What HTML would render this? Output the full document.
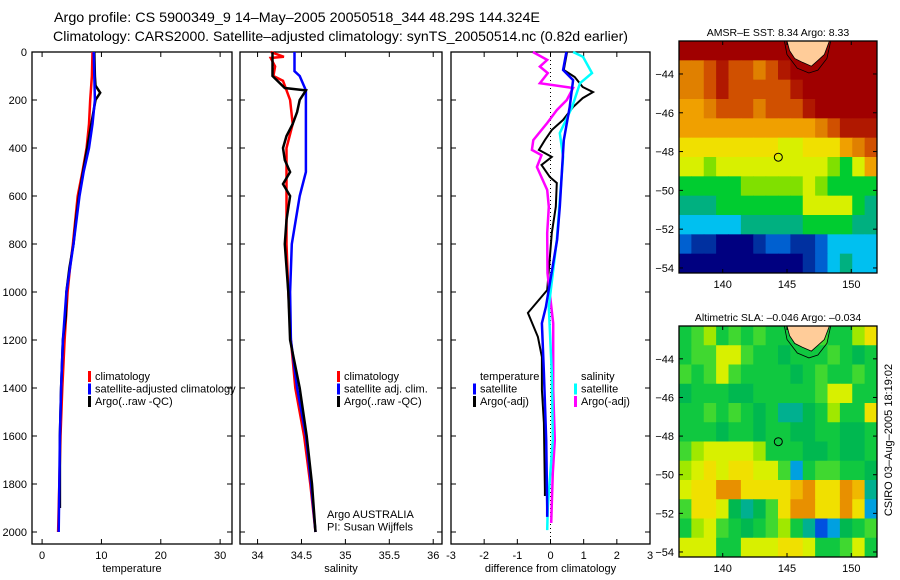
<!DOCTYPE html>
<html><head><meta charset="utf-8"><style>
body{margin:0;background:#fff;}
svg{display:block;font-family:"Liberation Sans",sans-serif;}
text{font-size:11px;fill:#000;}
</style></head><body>
<svg id="fig" width="900" height="580" viewBox="0 0 900 580">
<text x="54" y="22" textLength="486" lengthAdjust="spacingAndGlyphs" style="font-size:14px">Argo profile: CS 5900349_9 14–May–2005 20050518_344 48.29S 144.324E</text>
<text x="53" y="41" textLength="575" lengthAdjust="spacingAndGlyphs" style="font-size:14px">Climatology: CARS2000. Satellite–adjusted climatology: synTS_20050514.nc (0.82d earlier)</text>
<g id="p1"></g>
<g id="p2"></g>
<g id="p3"></g>
<g id="m1"></g>
<g id="m2"></g>
<text transform="translate(892,440) rotate(-90)" text-anchor="middle">CSIRO 03–Aug–2005 18:19:02</text>
</svg>
<script>
// ---------- data ----------
const depthTicks=[0,200,400,600,800,1000,1200,1400,1600,1800,2000];
const tempTicks=[0,10,20,30];
const salTicks=[34,34.5,35,35.5,36];
const salTickLabels=["34","34.5","35","35.5","36"];
const diffTicks=[-3,-2,-1,0,1,2,3];

const tClimP=[0,100,200,300,400,500,600,700,800,900,1000,1200,1400,1600,1800,2000];
const tClimV=[8.5,8.4,8.1,7.9,7.5,6.8,6.0,5.6,5.2,4.7,4.3,3.8,3.4,3.1,2.9,2.7];
const tSatP=[0,100,200,300,400,500,600,700,800,900,1000,1200,1400,1600,1800,2000];
const tSatV=[8.7,8.8,8.9,8.5,7.9,7.0,6.3,5.8,5.3,4.7,4.1,3.5,3.2,3.0,2.9,2.8];
const tArgoP=[0,100,140,170,200,300,400,500,600,700,800,900,1000,1100,1200,1400,1600,1800,1900];
const tArgoV=[8.8,8.9,9.0,9.8,9.0,8.3,7.6,6.9,6.2,5.7,5.3,4.6,4.1,4.0,3.5,3.2,3.0,3.0,3.0];

const sClimP=[0,20,25,60,100,120,200,300,400,600,800,1000,1200,1400,1600,1800,2000];
const sClimV=[34.15,34.3,34.15,34.2,34.18,34.29,34.37,34.4,34.33,34.33,34.33,34.35,34.38,34.43,34.53,34.6,34.66];
const sSatP=[0,80,100,160,500,600,800,1000,1200,1400,1600,1800,2000];
const sSatV=[34.42,34.42,34.48,34.55,34.55,34.48,34.39,34.37,34.38,34.45,34.55,34.61,34.66];
const sArgoP=[0,100,150,160,200,250,300,350,400,450,500,550,600,700,800,1000,1200,1400,1600,1800,2000];
const sArgoV=[34.17,34.17,34.31,34.55,34.48,34.45,34.4,34.33,34.29,34.31,34.37,34.29,34.37,34.33,34.31,34.35,34.37,34.48,34.56,34.62,34.66];

const dTSatP=[0,75,117,229,367,645,783,1062,1130,1337,1617,1896,1937];
const dTSatV=[0.48,0.38,0.68,0.58,0.4,0.28,0.2,-0.14,-0.26,-0.2,-0.13,-0.1,-0.1];
const dSSatP=[0,20,88,130,229,338,437,783,1062,1337,1617,1896,1992];
const dSSatV=[0.68,0.98,1.25,0.89,0.65,0.28,0.38,0.19,-0.05,0.04,0.07,-0.08,-0.1];
const dSArgoP=[0,33,61,88,130,150,200,242,296,367,408,430,479,575,645,754,921,1130,1408,1617,1754,1962];
const dSArgoV=[-0.53,-0.1,-0.32,-0.08,-0.32,0.68,0.49,0.19,-0.1,-0.52,-0.56,-0.27,-0.41,-0.1,-0.05,-0.1,-0.09,0.08,0.08,0.13,0.07,0.02];
const dTArgoP=[0,75,104,146,167,192,229,283,325,367,408,437,471,521,546,645,754,992,1087,1187,1271,1408,1546,1825,1850];
const dTArgoV=[0.5,0.4,0.73,0.97,1.28,0.97,0.68,0.38,0.04,-0.17,-0.35,0.04,-0.27,-0.02,0.19,0.16,0.04,-0.1,-0.68,-0.38,-0.26,-0.26,-0.2,-0.17,-0.17];

// maps: rows from north (-42.3) to south, 16 columns from 136.6E
const sstRows=[
[11,11,11,11,11,11,11,11,11,11,11,11,11,11,11,11],
[9.5,9.5,10,10.5,10,10,9.6,10,10.5,11,11,11,11,11,11,11],
[9.5,9.5,10,10.5,10,10,10.3,10,10,10.5,11,11,11,11,11,11],
[9.3,9.4,9.6,10,10,10,9.8,10,10,10.2,10.5,11,11,11,11,11],
[9,9,9.1,9,9.2,9,9,9,9,9,9.2,9.6,10,10.5,10.5,10.5],
[8.8,8.8,8.7,8.6,8.6,8.7,8.6,8.6,8.5,8.5,8.6,8.6,8.7,9,9.5,10],
[8.2,8.2,8.1,8.3,8.4,8.4,8.4,8.3,8.4,8.3,8.2,8.2,7.7,7.5,8.3,9],
[7.2,7.1,7,7,7.3,7.8,8,8,8.1,7.9,8.2,7.8,7,7,7.2,7.5],
[6.7,6.7,6.9,7,7,7.1,7.4,7.3,7.1,7,8.2,8.3,8.2,8.2,7.5,6.7],
[6,6,6.1,6.2,6.4,6.5,6.6,6.5,6.6,6.8,7,7.2,7.1,7,6.8,6.5],
[5.4,5.3,5,4.6,4.5,4.7,5.2,5.4,5.4,5.3,5.2,5.6,6,6.2,6.2,6],
[4.8,4.6,4.5,4.4,4.4,4.5,4.6,4.7,4.8,4.8,5,5.5,6.3,6.5,6.3,6.2]];
const slaRows=[
[-0.05,-0.03,0,-0.05,-0.04,-0.05,-0.03,-0.05,-0.05,-0.05,-0.05,-0.03,-0.05,-0.05,0,0.05],
[-0.05,-0.03,-0.02,0.02,0.03,-0.03,-0.05,-0.05,-0.07,-0.05,-0.05,-0.05,-0.03,-0.05,-0.08,-0.05],
[-0.04,-0.05,-0.03,0.03,-0.04,-0.05,-0.06,-0.05,-0.05,-0.08,-0.05,-0.03,-0.05,-0.05,-0.03,-0.05],
[-0.07,-0.06,-0.05,-0.05,-0.07,-0.08,-0.06,-0.05,-0.05,-0.06,-0.05,-0.02,0.03,0.02,-0.05,-0.05],
[-0.05,-0.05,-0.02,-0.05,-0.03,-0.06,-0.07,-0.06,-0.09,-0.09,-0.08,-0.05,-0.01,-0.05,-0.05,0.04],
[-0.05,-0.06,-0.05,-0.07,-0.05,-0.06,-0.08,-0.05,-0.06,-0.08,-0.08,-0.05,-0.06,-0.08,-0.08,-0.05],
[-0.02,0,0.02,0.03,0.02,0.02,0,-0.05,-0.06,-0.05,-0.08,-0.07,-0.05,-0.08,-0.07,-0.05],
[-0.01,0.03,0.04,0.03,0.05,0.04,0.03,0.03,-0.03,-0.14,-0.05,-0.02,-0.03,-0.06,-0.06,-0.08],
[0.01,0.04,0.06,0.1,0.09,0.06,0.04,0.05,0.05,0.08,0.1,0.04,0.06,0.09,0.07,-0.12],
[-0.03,0.04,0.05,0.03,-0.07,-0.1,-0.08,-0.02,0.04,0.12,0.11,0.05,0.04,0.1,0.06,-0.15],
[-0.06,0,0.02,-0.02,-0.06,-0.07,-0.05,-0.03,0,-0.05,-0.1,-0.2,-0.15,-0.08,-0.05,-0.03],
[0.02,0.03,0.02,-0.05,-0.06,0.01,0.03,0.02,0.04,0.06,0.03,-0.05,-0.05,-0.03,0.02,-0.05]];

// ---------- helpers ----------
const NS="http://www.w3.org/2000/svg";
function mk(tag,attrs,parent){const e=document.createElementNS(NS,tag);for(const k in attrs)e.setAttribute(k,attrs[k]);parent.appendChild(e);return e;}
const Y0=52,Y1=544,PMAX=2050;
const yP=p=>Y0+p/PMAX*(Y1-Y0);

function panel(g,x0,x1,dmin,dmax,ticks,labels,xlabel,showY,nm){
  const xs=v=>x0+(v-dmin)/(dmax-dmin)*(x1-x0);
  const r=mk('rect',{x:x0,y:Y0,width:x1-x0,height:Y1-Y0,fill:'none',stroke:'#000','stroke-width':1.3},g);
  
  
  ticks.forEach((t,i)=>{
    const x=xs(t);
    mk('line',{x1:x,x2:x,y1:Y1,y2:Y1-5,stroke:'#000'},g);
    mk('line',{x1:x,x2:x,y1:Y0,y2:Y0+5,stroke:'#000'},g);
    const tx=mk('text',{x:x,y:Y1+15,'text-anchor':'middle'},g);
    tx.textContent=labels[i];
    
    
  });
  depthTicks.forEach(p=>{
    const y=yP(p);
    mk('line',{x1:x0,x2:x0+5,y1:y,y2:y,stroke:'#000'},g);
    mk('line',{x1:x1,x2:x1-5,y1:y,y2:y,stroke:'#000'},g);
    if(showY){const tx=mk('text',{x:x0-5,y:y+4,'text-anchor':'end'},g);tx.textContent=p;
      
      }
  });
  const xl=mk('text',{x:(x0+x1)/2,y:572,'text-anchor':'middle'},g);
  xl.textContent=xlabel;
  
  
  return xs;
}
function line(g,xs,P,V,color,w,nm){
  const d=P.map((p,i)=>(i?'L':'M')+xs(V[i]).toFixed(1)+','+yP(p).toFixed(1)).join('');
  const e=mk('path',{d:d,fill:'none',stroke:color,'stroke-width':w},g);
  
  
}
function legend(g,x,y,items,nmPrefix){
  items.forEach((it,i)=>{
    const yy=y+i*12.5;
    if(it[1]) mk('rect',{x:x,y:yy-9,width:3,height:11,fill:it[1]},g);
    const t=mk('text',{x:x+7,y:yy},g);t.textContent=it[0];
    
    
  });
}
// ---------- panels ----------
const g1=document.getElementById('p1');
const x1s=panel(g1,32,232,-1.7,32,tempTicks,tempTicks.map(String),'temperature',true,'temperature');
line(g1,x1s,tClimP,tClimV,'#f00',2.5,'temperature-climatology-line');
line(g1,x1s,tArgoP,tArgoV,'#000',2.5,'temperature-argo-line');
line(g1,x1s,tSatP,tSatV,'#00f',2.5,'temperature-satellite-line');
legend(g1,88,380,[['climatology','#f00'],['satellite-adjusted climatology','#00f'],['Argo(..raw -QC)','#000']],'temperature');

const g2=document.getElementById('p2');
const x2s=panel(g2,240,442,33.8,36.1,salTicks,salTickLabels,'salinity',false,'salinity');
line(g2,x2s,sClimP,sClimV,'#f00',2.5,'salinity-climatology-line');
line(g2,x2s,sSatP,sSatV,'#00f',2.5,'salinity-satellite-line');
line(g2,x2s,sArgoP,sArgoV,'#000',2.5,'salinity-argo-line');
legend(g2,337,380,[['climatology','#f00'],['satellite adj. clim.','#00f'],['Argo(..raw -QC)','#000']],'salinity');
legend(g2,320,518,[['Argo AUSTRALIA',null],['PI: Susan Wijffels',null]],'credit');

const g3=document.getElementById('p3');
const x3s=panel(g3,451,650,-3,3,diffTicks,diffTicks.map(String),'difference from climatology',false,'difference');
mk('line',{x1:x3s(0),x2:x3s(0),y1:Y0,y2:Y1,stroke:'#000','stroke-dasharray':'1,3'},g3);
line(g3,x3s,dTArgoP,dTArgoV,'#000',2,'temp-argo-diff-line');
line(g3,x3s,dSArgoP,dSArgoV,'#f0f',2.5,'sal-argo-diff-line');
line(g3,x3s,dSSatP,dSSatV,'#0ff',2.5,'sal-satellite-diff-line');
line(g3,x3s,dTSatP,dTSatV,'#00f',2.5,'temp-satellite-diff-line');
legend(g3,473,380,[['temperature',null],['satellite','#00f'],['Argo(-adj)','#000']],'difference-temp');
legend(g3,574,380,[['salinity',null],['satellite','#0ff'],['Argo(-adj)','#f0f']],'difference-sal');

// ---------- maps ----------
const LON0=136.6,LON1=152,LAT0=-42.3,LAT1=-54.26;
function sstColor(v){const s=[[4.4,'#000080'],[5,'#0030a0'],[5.4,'#0060d0'],[6,'#00c0f0'],[6.5,'#00b080'],[7,'#00cc30'],[7.6,'#80e000'],[8.2,'#d8f000'],[8.6,'#f0e000'],[9,'#f0a000'],[9.5,'#e08000'],[10,'#d05000'],[10.5,'#b01800'],[11,'#a00000']];
  let c=s[0][1];for(const q of s){if(v>=q[0])c=q[1];}return c;}
function slaColor(v){const s=[[-1,'#0050e0'],[-0.17,'#00a0e0'],[-0.12,'#00b090'],[-0.085,'#00b850'],[-0.065,'#10c840'],[-0.045,'#40d830'],[-0.015,'#a0e800'],[0.01,'#d8f000'],[0.04,'#f0e000'],[0.07,'#f0b800'],[0.09,'#e89000']];
  let c=s[0][1];for(const q of s){if(v>=q[0])c=q[1];}return c;}
function drawMap(g,top,bot,rows,colorFn,title,nm){
  const L=679,R=877;
  const xs=lon=>L+(lon-LON0)/(LON1-LON0)*(R-L);
  const ys=lat=>top+(lat-LAT0)/(LAT1-LAT0)*(bot-top);
  const nr=rows.length,nc=rows[0].length;
  const cw=(R-L)/nc,ch=(bot-top)/nr;
  rows.forEach((row,i)=>row.forEach((v,j)=>{
    const c=mk('rect',{x:L+j*cw,y:top+i*ch,width:cw+0.5,height:ch+0.5,fill:colorFn(v)},g);
    
    
  }));
  const land=[[145.0,-42.3],[145.2,-42.8],[145.6,-43.2],[146.2,-43.4],[146.9,-43.6],[147.4,-43.3],[147.9,-43.0],[148.3,-42.3]];
  const dl=land.map((p,i)=>(i?'L':'M')+xs(p[0]).toFixed(1)+','+ys(p[1]).toFixed(1)).join('')+'Z';
  const lp=mk('path',{d:dl,fill:'#ffcc99',stroke:'#000','stroke-width':0.8},g);
  
  
  const cont=[[144.8,-42.3],[145.0,-43.0],[145.8,-43.7],[146.7,-43.95],[147.4,-43.8],[148.1,-43.2],[148.4,-42.3]];
  mk('path',{d:cont.map((p,i)=>(i?'L':'M')+xs(p[0]).toFixed(1)+','+ys(p[1]).toFixed(1)).join(''),fill:'none',stroke:'#000','stroke-width':0.8},g);
  const fr=mk('rect',{x:L,y:top,width:R-L,height:bot-top,fill:'none',stroke:'#000','stroke-width':1.3},g);
  
  
  const ci=mk('circle',{cx:xs(144.324),cy:ys(-48.29),r:4,fill:'none',stroke:'#000'},g);
  
  
  [140,145,150].forEach(lon=>{const x=xs(lon);
    mk('line',{x1:x,x2:x,y1:bot,y2:bot-4,stroke:'#000'},g);
    mk('line',{x1:x,x2:x,y1:top,y2:top+4,stroke:'#000'},g);
    const t=mk('text',{x:x,y:bot+15,'text-anchor':'middle'},g);t.textContent=lon;
    
    });
  [-44,-46,-48,-50,-52,-54].forEach(lat=>{const y=ys(lat);
    mk('line',{x1:L,x2:L+4,y1:y,y2:y,stroke:'#000'},g);
    mk('line',{x1:R,x2:R-4,y1:y,y2:y,stroke:'#000'},g);
    const t=mk('text',{x:L-5,y:y+4,'text-anchor':'end'},g);t.textContent='\u2212'+(-lat);
    
    });
  const tt=mk('text',{x:(L+R)/2,y:top-5,'text-anchor':'middle','style':'font-size:10.5px'},g);tt.textContent=title;
  
  
}
drawMap(document.getElementById('m1'),41,273,sstRows,sstColor,'AMSR–E SST: 8.34 Argo: 8.33','sst-map');
drawMap(document.getElementById('m2'),326,557,slaRows,slaColor,'Altimetric SLA: –0.046 Argo: –0.034','sla-map');
</script>
</body></html>
